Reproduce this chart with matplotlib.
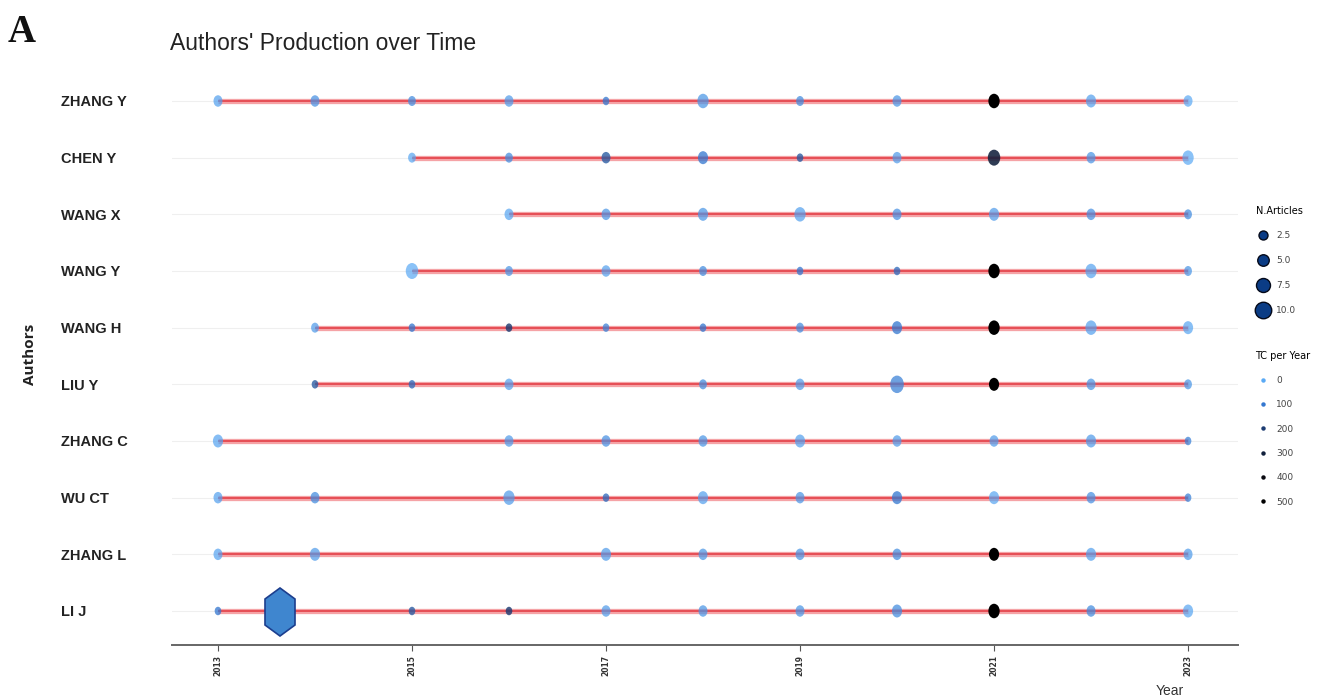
import matplotlib.pyplot as plt
import numpy as np
from matplotlib.colors import LinearSegmentedColormap, Normalize
from matplotlib.lines import Line2D
from matplotlib.patches import Polygon
from matplotlib.path import Path

# Authors, top to bottom
authors = ['ZHANG Y', 'CHEN Y', 'WANG X', 'WANG Y', 'WANG H',
           'LIU Y', 'ZHANG C', 'WU CT', 'ZHANG L', 'LI J']

# publication years for each author
years = [
    [2013, 2014, 2015, 2016, 2017, 2018, 2019, 2020, 2021, 2022, 2023],
    [2015, 2016, 2017, 2018, 2019, 2020, 2021, 2022, 2023],
    [2016, 2017, 2018, 2019, 2020, 2021, 2022, 2023],
    [2015, 2016, 2017, 2018, 2019, 2020, 2021, 2022, 2023],
    [2014, 2015, 2016, 2017, 2018, 2019, 2020, 2021, 2022, 2023],
    [2014, 2015, 2016, 2018, 2019, 2020, 2021, 2022, 2023],
    [2013, 2016, 2017, 2018, 2019, 2020, 2021, 2022, 2023],
    [2013, 2014, 2016, 2017, 2018, 2019, 2020, 2021, 2022, 2023],
    [2013, 2014, 2017, 2018, 2019, 2020, 2021, 2022, 2023],
    [2013, 2015, 2016, 2017, 2018, 2019, 2020, 2021, 2022, 2023],
]

# number of articles per year (point size)
n_articles = [
    [4, 4, 3, 4, 2, 6, 3, 4, 6, 5, 4],
    [3, 3, 4, 5, 2, 4, 7, 4, 6],
    [4, 4, 5, 6, 4, 5, 4, 3],
    [7, 3, 4, 3, 2, 2, 6, 6, 3],
    [3, 2, 2, 2, 2, 3, 5, 6, 6, 5],
    [2, 2, 4, 3, 4, 8, 5, 4, 3],
    [5, 4, 4, 4, 5, 4, 4, 5, 2],
    [4, 4, 6, 2, 5, 4, 5, 5, 4, 2],
    [4, 5, 5, 4, 4, 4, 5, 5, 4],
    [2, 2, 2, 4, 4, 4, 5, 6, 4, 5],
]

# total citations per year (point colour)
tc_per_year = [
    [20, 50, 60, 30, 100, 40, 60, 40, 500, 20, 5],
    [10, 60, 150, 100, 150, 30, 300, 40, 5],
    [10, 40, 40, 20, 50, 30, 50, 60],
    [5, 40, 20, 60, 100, 120, 500, 15, 40],
    [30, 100, 200, 80, 100, 60, 100, 500, 20, 10],
    [150, 120, 20, 60, 30, 80, 500, 40, 40],
    [15, 30, 50, 40, 20, 30, 30, 30, 80],
    [20, 60, 30, 120, 20, 40, 100, 10, 50, 80],
    [15, 30, 30, 40, 40, 60, 500, 20, 30],
    [100, 150, 200, 30, 40, 40, 60, 500, 60, 10],
]

# legend entries
size_legend = [2.5, 5.0, 7.5, 10.0]
tc_legend = [0, 100, 200, 300, 400, 500]
year_ticks = [2013, 2015, 2017, 2019, 2021, 2023]

cmap = LinearSegmentedColormap.from_list(
    'tc', ['#5AAAF5', '#3578D0', '#1D3C72', '#12213D', '#0A0A12', '#000000'])
norm = Normalize(0, 500)

# points look slightly taller than wide in the reference
_circ = Path.unit_circle()
ellipse = Path(_circ.vertices * np.array([0.78, 1.0]), _circ.codes)


def marker_area(n):
    d = (5.5 + 1.5 * np.asarray(n)) * 0.72  # px -> pt
    return d ** 2


fig = plt.figure(figsize=(13.19, 6.98), dpi=100)
ax = fig.add_axes([172 / 1319, 1 - 645 / 698, 1066 / 1319, 578 / 698])

for i, name in enumerate(authors):
    yr = np.array(years[i])
    tc = np.array(tc_per_year[i], dtype=float)
    ax.axhline(i, color='#EFEFEF', lw=0.8, zorder=0)
    ax.plot([yr.min(), yr.max()], [i, i], color='#F5A3A6', lw=3.8,
            solid_capstyle='butt', zorder=1)
    ax.plot([yr.min(), yr.max()], [i, i], color='#E2373F', lw=1.1,
            solid_capstyle='butt', zorder=1)
    cols = cmap(norm(tc))
    cols[:, 3] = 0.7 + 0.3 * np.clip(tc / 500, 0, 1)
    ax.scatter(yr, np.full(len(yr), i), s=marker_area(n_articles[i]),
               c=cols, linewidths=0, marker=ellipse, zorder=2)

ax.set_xlim(2012.526, 2023.515)
ax.set_ylim(9.6, -0.6)
ax.set_yticks(range(len(authors)))
ax.set_yticklabels(authors, ha='left', fontsize=10.5, fontweight='bold',
                   family=['Liberation Sans', 'DejaVu Sans'], color='#222222')
ax.tick_params(axis='y', length=0, pad=80)
ax.set_xticks(year_ticks)
ax.set_xticklabels([str(y) for y in year_ticks], rotation=90, fontsize=5.5,
                   fontweight='bold', color='#333333')
ax.tick_params(axis='x', length=4, width=0.8, color='#555555', pad=3)
for side in ['top', 'right', 'left']:
    ax.spines[side].set_visible(False)
ax.spines['bottom'].set_color('#666666')
ax.spines['bottom'].set_linewidth(1.4)

ax.set_ylabel('Authors', fontsize=11, fontweight='bold', color='#222222',
              family=['Open Sans', 'DejaVu Sans'])
ax.yaxis.set_label_coords(-0.1266, 0.502)
ax.set_xlabel('Year', fontsize=10, color='#333333', family=['Liberation Sans', 'DejaVu Sans'])
ax.xaxis.set_label_coords(0.936, -0.068)

fig.text(170 / 1319, 1 - 44 / 698, "Authors' Production over Time", fontsize=16.5,
         va='center', ha='left', color='#222222', family=['Liberation Sans', 'DejaVu Sans'])
fig.text(8 / 1319, 1 - 33 / 698, 'A', fontsize=28, fontweight='bold', va='center',
         ha='left', family=['Liberation Serif', 'DejaVu Serif'], color='#111111')

# legends
size_handles = [Line2D([], [], marker='o', ls='none', markersize=(6.5 + 1.0 * n) * 0.72,
                       markerfacecolor='#0B3C85', markeredgecolor='#050A1A',
                       markeredgewidth=1.0) for n in size_legend]
leg1 = fig.legend(size_handles, [f'{n:.1f}' for n in size_legend], title='N.Articles',
                  loc='upper left', bbox_to_anchor=(1251 / 1319, 1 - 201 / 698),
                  frameon=False, fontsize=6.5, title_fontsize=7, labelspacing=1.75,
                  handletextpad=0.7, borderpad=0, alignment='left', handlelength=1.6)
for t in leg1.get_texts():
    t.set_color('#444444')
tc_handles = [Line2D([], [], marker='o', ls='none', markersize=3.2,
                     markerfacecolor=cmap(norm(v)), markeredgewidth=0) for v in tc_legend]
leg2 = fig.legend(tc_handles, [str(v) for v in tc_legend], title='TC per Year',
                  loc='upper left', bbox_to_anchor=(1251 / 1319, 1 - 346 / 698),
                  frameon=False, fontsize=6.5, title_fontsize=7, labelspacing=1.7,
                  handletextpad=0.7, borderpad=0, alignment='left', handlelength=1.6)
for t in leg2.get_texts():
    t.set_color('#444444')

# watermark badge
cx, cy = 280, 612
hexagon = np.array([[0, -24], [15, -13], [15, 13], [0, 24], [-15, 13], [-15, -13]])
badge = Polygon([((cx + x) / 1319, 1 - (cy + y) / 698) for x, y in hexagon],
                closed=True, transform=fig.transFigure, facecolor='#3F86CF',
                edgecolor='#1C3E8E', lw=1.2, zorder=5)
fig.patches.append(badge)

fig.savefig('out.png', dpi=100)
